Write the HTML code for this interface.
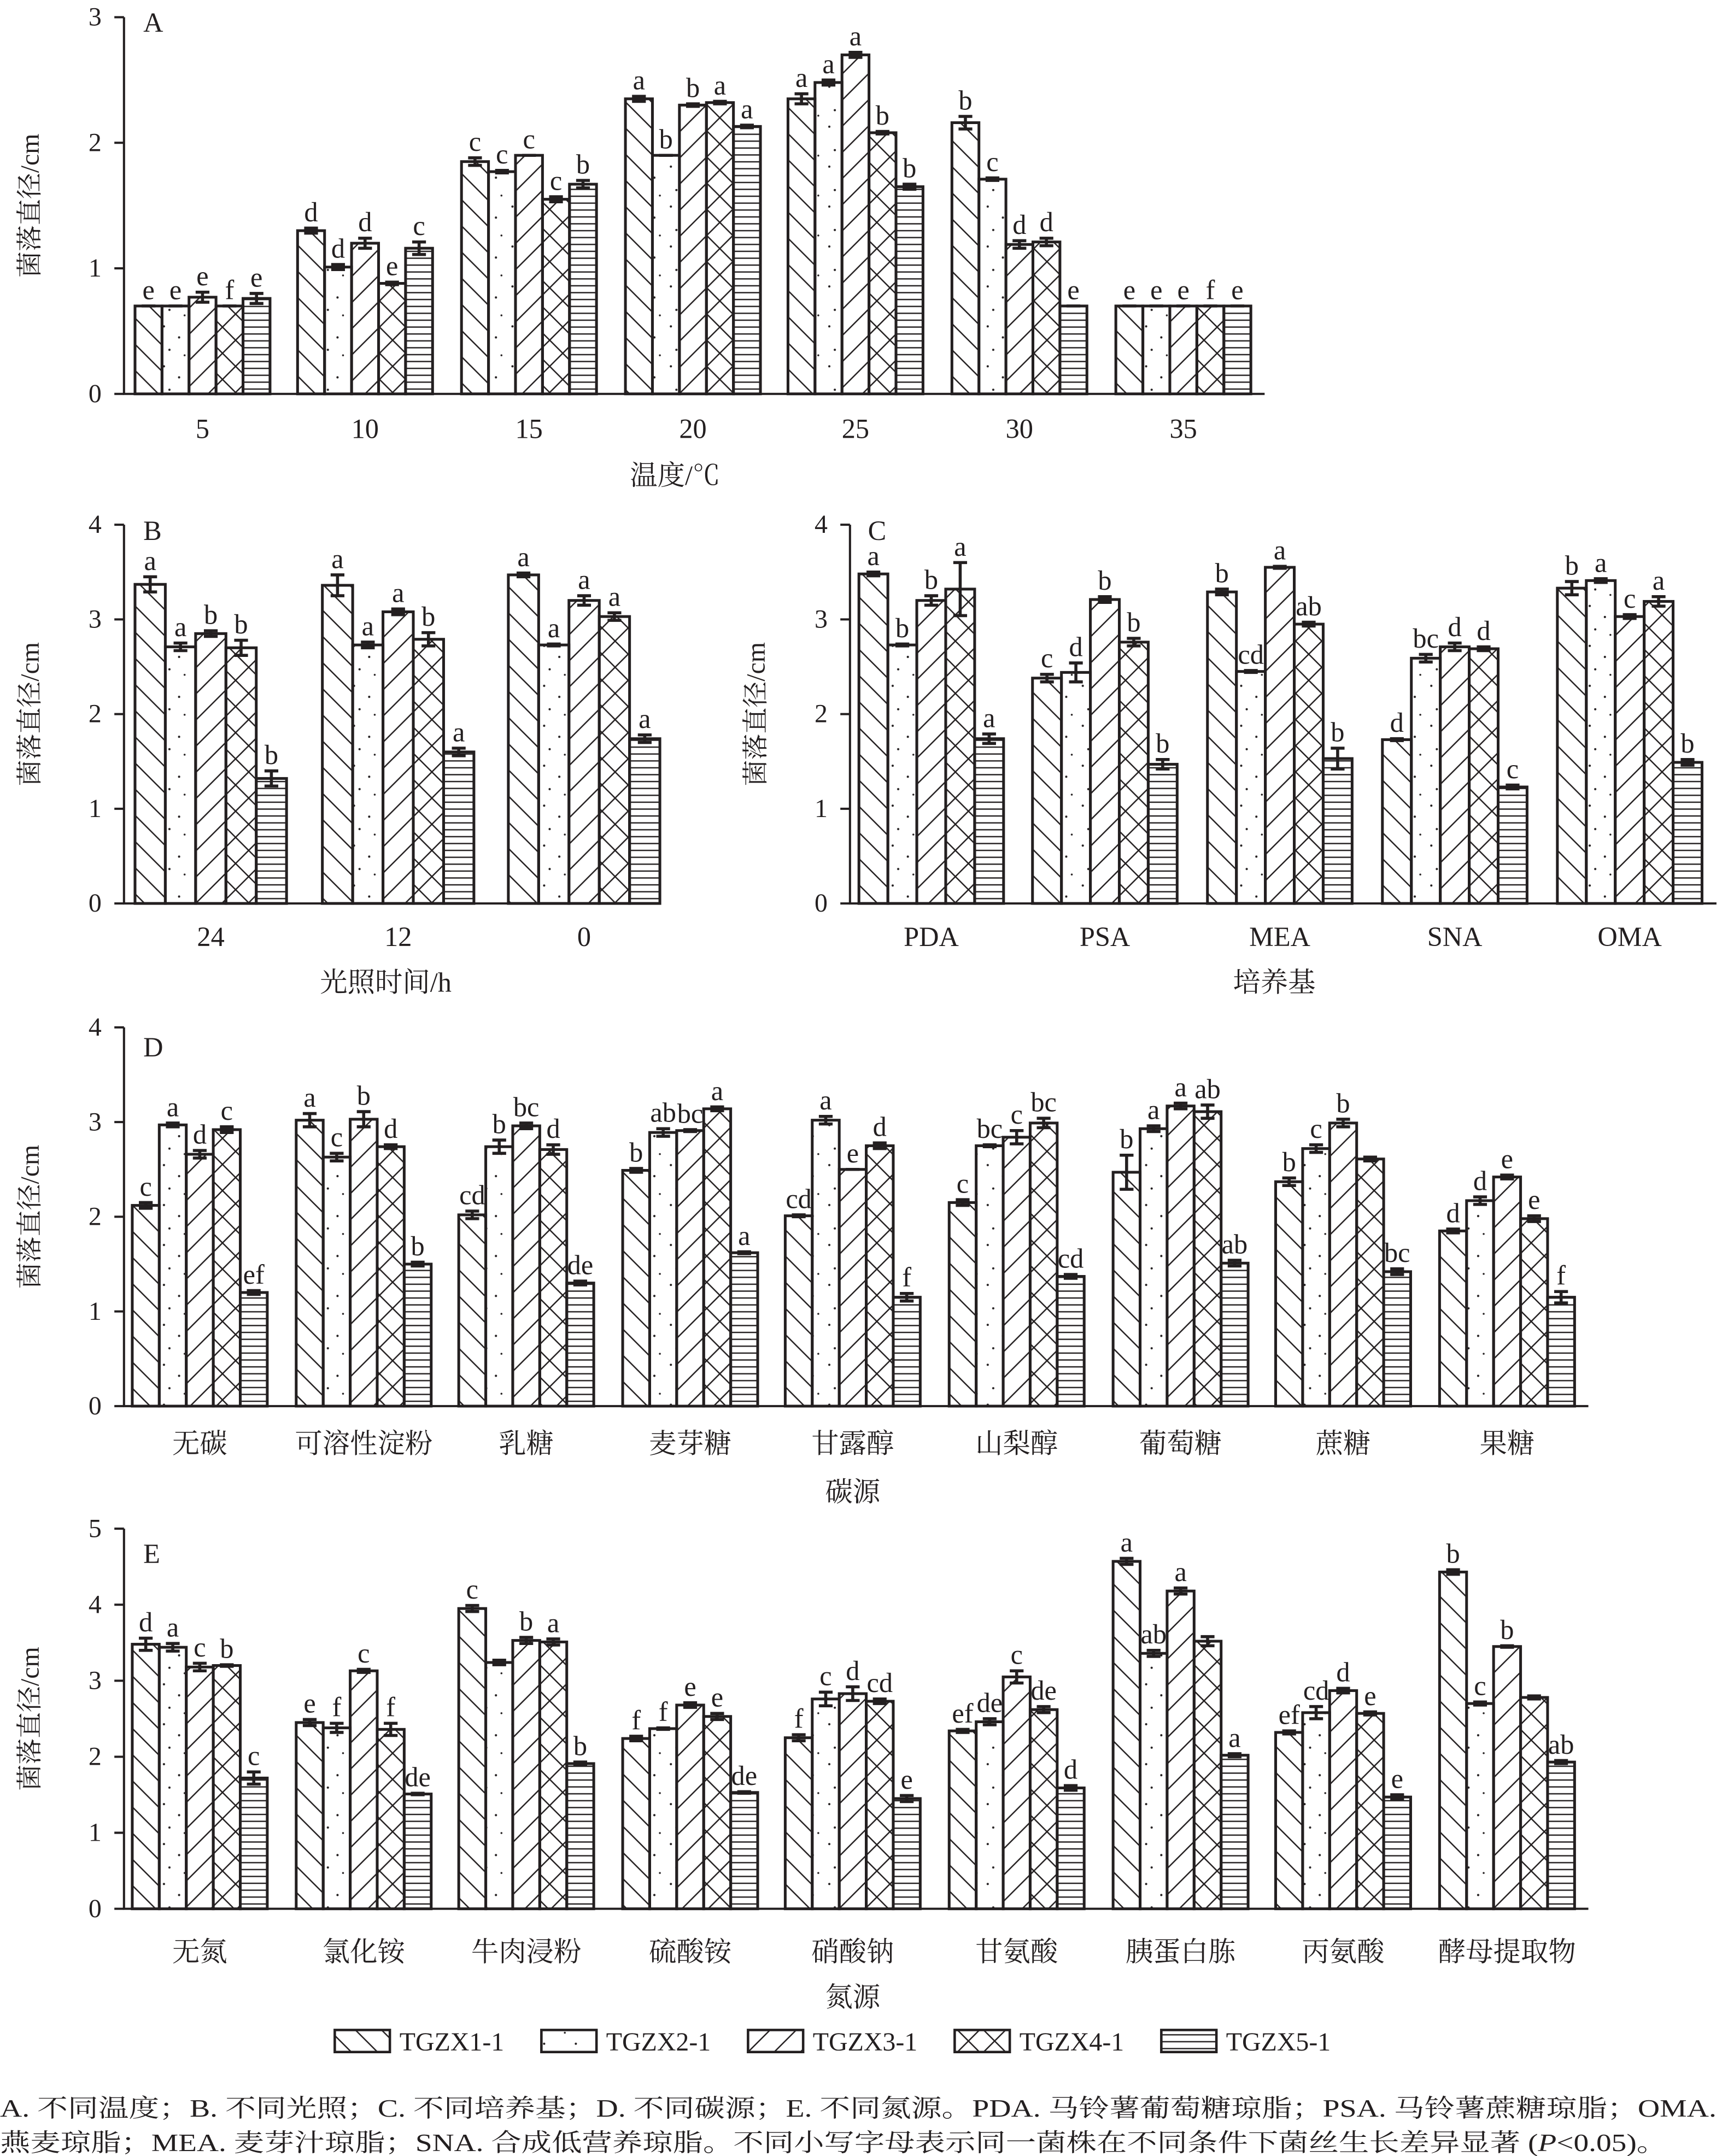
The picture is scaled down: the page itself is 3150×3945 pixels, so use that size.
<!DOCTYPE html>
<html><head><meta charset="utf-8"><style>
html,body{margin:0;padding:0;background:#fff;}
svg{display:block;}
text{font-family:"Liberation Serif","Noto Serif CJK SC","Noto Sans CJK SC",serif;fill:#231f20;}
</style></head><body>
<svg id="s" xmlns="http://www.w3.org/2000/svg" width="3150" height="3945" viewBox="0 0 1250 1565.5">
<defs>
<pattern id="p1" patternUnits="userSpaceOnUse" width="19" height="19"><path d="M-5,-5 L24,24 M-5,14 L5,24 M14,-5 L24,5" stroke="#231f20" stroke-width="1"/></pattern>
<pattern id="p3" patternUnits="userSpaceOnUse" width="19" height="19"><path d="M-5,24 L24,-5 M-5,5 L5,-5 M14,24 L24,14" stroke="#231f20" stroke-width="1"/></pattern>
<pattern id="p4" patternUnits="userSpaceOnUse" width="19" height="19"><path d="M-5,-5 L24,24 M-5,24 L24,-5 M-5,14 L5,24 M14,-5 L24,5 M-5,5 L5,-5 M14,24 L24,14" stroke="#231f20" stroke-width="1"/></pattern>
<pattern id="p5" patternUnits="userSpaceOnUse" width="10" height="5"><path d="M0,2.5 L10,2.5" stroke="#231f20" stroke-width="1"/></pattern>
<pattern id="p2" patternUnits="userSpaceOnUse" width="23" height="29"><circle cx="4" cy="5" r="0.8" fill="#231f20"/><circle cx="15" cy="13" r="0.8" fill="#231f20"/><circle cx="8" cy="22" r="0.8" fill="#231f20"/><circle cx="19" cy="26" r="0.7" fill="#231f20"/></pattern>
</defs>
<g id="g"></g>
</svg>
<script>
var out='';
var pats=['url(#p1)','url(#p2)','url(#p3)','url(#p4)','url(#p5)'];
function T(x,y,s,sz,anc,extra){out+='<text x="'+x+'" y="'+y+'" font-size="'+sz+'" text-anchor="'+(anc||'middle')+'" '+(extra||'')+'>'+s+'</text>';}
function panel(c){
  var ax=c.ax,y0=c.y0,ppu=(y0-c.yTop)/c.ymax;
  c.data.forEach(function(g,gi){
    var cx=c.cats[gi],bw=c.gw/5,sx=cx-c.gw/2;
    g.forEach(function(v,i){
      var x=sx+i*bw,h=v*ppu,yt=y0-h;
      out+='<rect x="'+x+'" y="'+yt+'" width="'+bw+'" height="'+h+'" fill="'+pats[i]+'" stroke="#231f20" stroke-width="2"/>';
      var e=(c.err&&c.err[gi]&&c.err[gi][i]!=null)?c.err[gi][i]:0.025;
      var ep=e*ppu, mx=x+bw/2;
      out+='<path d="M'+mx+','+(yt-ep)+' L'+mx+','+(yt+ep)+' M'+(mx-5)+','+(yt-ep)+' L'+(mx+5)+','+(yt-ep)+' M'+(mx-5)+','+(yt+ep)+' L'+(mx+5)+','+(yt+ep)+'" stroke="#231f20" stroke-width="2.2" fill="none"/>';
      var l=c.lab[gi][i]; if(l) T(mx,yt-ep-5,l,20);
    });
    T(cx,c.catY,c.names[gi],20);
  });
  out+='<path d="M'+ax+','+c.yTop+' L'+ax+','+y0+' L'+c.xEnd+','+y0+'" stroke="#231f20" stroke-width="1.6" fill="none"/>';
  for(var k=0;k<=c.ymax;k++){var yy=y0-k*ppu;out+='<path d="M'+(ax-7)+','+yy+' L'+ax+','+yy+'" stroke="#231f20" stroke-width="1.6"/>';T(ax-21,yy+6,k,19);}
  T(c.lx,c.ly,c.letter,20,'start');
  T(c.xlx,c.xly,c.xlab,20);
  var my=(c.yTop+y0)/2; T(0,0,'菌落直径/cm',19,'middle','transform="translate('+(ax-62)+','+my+') rotate(-90)"');
}
var D=function(s){return s.split(' ').map(function(x){return x==='-'?'':x;});};
panel({ax:90,yTop:12.5,y0:286,ymax:3,xEnd:918,cats:[147,265,384,503,621,740,859],gw:98,catY:318,
names:['5','10','15','20','25','30','35'],letter:'A',lx:104,ly:23,xlab:'温度/℃',xlx:490,xly:352,
data:[[0.7,0.7,0.77,0.7,0.76],[1.3,1.01,1.2,0.88,1.16],[1.85,1.77,1.9,1.55,1.67],[2.35,1.9,2.3,2.32,2.13],[2.35,2.48,2.7,2.08,1.65],[2.16,1.71,1.19,1.21,0.7],[0.7,0.7,0.7,0.7,0.7]],
err:[[0,0,0.04,0,0.04],[0.02,0.02,0.04,0.01,0.05],[0.03,0.01,0,0.02,0.03],[0.02,0,0.01,0.01,0.01],[0.04,0.02,0.02,0.01,0.02],[0.05,0.01,0.03,0.03,0],[0,0,0,0,0]],
lab:[D('e e e f e'),D('d d d e c'),D('c c c c b'),D('a b b a a'),D('a a a b b'),D('b c d d e'),D('e e e f e')]});
panel({ax:90,yTop:381,y0:656,ymax:4,xEnd:468,cats:[153,289,424],gw:110,catY:687,
names:['24','12','0'],letter:'B',lx:104,ly:392,xlab:'光照时间/h',xlx:280,xly:720,
data:[[3.37,2.71,2.85,2.7,1.32],[3.36,2.73,3.08,2.79,1.6],[3.47,2.73,3.2,3.03,1.74]],
err:[[0.08,0.04,0.03,0.08,0.08],[0.11,0.03,0.03,0.07,0.04],[0.02,0.01,0.05,0.04,0.04]],
lab:[D('a a b b b'),D('a a a b a'),D('a a a a a')]});
panel({ax:617,yTop:381,y0:656,ymax:4,xEnd:1246,cats:[676,802,929,1056,1183],gw:105,catY:687,
names:['PDA','PSA','MEA','SNA','OMA'],letter:'C',lx:630,ly:392,xlab:'培养基',xlx:925,xly:720,
data:[[3.48,2.73,3.2,3.32,1.74],[2.38,2.44,3.21,2.76,1.47],[3.29,2.45,3.55,2.95,1.53],[1.73,2.59,2.71,2.69,1.23],[3.33,3.41,3.03,3.19,1.49]],
err:[[0.02,0.01,0.05,0.28,0.05],[0.04,0.1,0.03,0.04,0.05],[0.03,0.01,0.01,0.02,0.11],[0.01,0.04,0.04,0.02,0.02],[0.07,0.02,0.02,0.05,0.03]],
lab:[D('a b b a a'),D('c d b b b'),D('b cd a ab b'),D('d bc d d c'),D('b a c a b')]});
panel({ax:90,yTop:746,y0:1021,ymax:4,xEnd:1153,cats:[145,264,382,501,619,738,857,975,1094],gw:98,catY:1055,
names:['无碳','可溶性淀粉','乳糖','麦芽糖','甘露醇','山梨醇','葡萄糖','蔗糖','果糖'],letter:'D',lx:104,ly:767,xlab:'碳源',xlx:619,xly:1090,
data:[[2.12,2.97,2.66,2.92,1.2],[3.02,2.63,3.03,2.74,1.5],[2.02,2.74,2.96,2.71,1.3],[2.49,2.89,2.91,3.14,1.62],[2.01,3.02,2.5,2.75,1.15],[2.15,2.75,2.84,2.99,1.37],[2.47,2.93,3.17,3.11,1.51],[2.37,2.72,2.99,2.61,1.42],[1.85,2.17,2.42,1.98,1.15]],
err:[[0.03,0.02,0.04,0.03,0.02],[0.07,0.04,0.08,0.02,0.02],[0.04,0.07,0.03,0.05,0.02],[0.02,0.04,0.01,0.02,0.01],[0.01,0.04,0,0.03,0.04],[0.03,0.01,0.07,0.05,0.02],[0.18,0.03,0.03,0.07,0.03],[0.04,0.04,0.04,0.02,0.03],[0.02,0.04,0.02,0.03,0.06]],
lab:[D('c a d c ef'),D('a c b d b'),D('cd b bc d de'),D('b ab bc a a'),D('cd a e d f'),D('c bc c bc cd'),D('b a a ab ab'),D('b c b - bc'),D('d d e e f')]});
panel({ax:90,yTop:1110,y0:1386,ymax:5,xEnd:1153,cats:[145,264,382,501,619,738,857,975,1094],gw:98,catY:1424,
names:['无氮','氯化铵','牛肉浸粉','硫酸铵','硝酸钠','甘氨酸','胰蛋白胨','丙氨酸','酵母提取物'],letter:'E',lx:104,ly:1135,xlab:'氮源',xlx:619,xly:1457,
data:[[3.48,3.44,3.18,3.2,1.72],[2.45,2.38,3.13,2.36,1.51],[3.95,3.24,3.53,3.51,1.91],[2.24,2.37,2.68,2.53,1.53],[2.25,2.76,2.83,2.73,1.45],[2.34,2.46,3.05,2.62,1.59],[4.57,3.36,4.18,3.52,2.02],[2.32,2.58,2.87,2.57,1.47],[4.43,2.7,3.45,2.78,1.93]],
err:[[0.08,0.05,0.05,0.01,0.08],[0.04,0.06,0.02,0.08,0.01],[0.04,0.03,0.04,0.04,0.02],[0.03,0.01,0.03,0.04,0.01],[0.04,0.09,0.09,0.03,0.04],[0.02,0.04,0.08,0.04,0.03],[0.04,0.04,0.04,0.06,0.02],[0.02,0.08,0.03,0.02,0.03],[0.03,0.02,0.01,0.02,0.02]],
lab:[D('d a c b c'),D('e f c f de'),D('c - b a b'),D('f f e e de'),D('f c d cd e'),D('ef de c de d'),D('a ab a - a'),D('ef cd d e e'),D('b c b - ab')]});
var lx=[243,393,543,693,843],nm=['TGZX1-1','TGZX2-1','TGZX3-1','TGZX4-1','TGZX5-1'];
for(var i=0;i<5;i++){out+='<rect x="'+lx[i]+'" y="1474" width="40" height="16" fill="'+pats[i]+'" stroke="#231f20" stroke-width="1.8"/>';T(lx[i]+47,1489,nm[i],19,'start');}
T(0,1537,'A. 不同温度；B. 不同光照；C. 不同培养基；D. 不同碳源；E. 不同氮源。PDA. 马铃薯葡萄糖琼脂；PSA. 马铃薯蔗糖琼脂；OMA.',18,'start','textLength="1246" lengthAdjust="spacingAndGlyphs"');
T(0,1562,'燕麦琼脂；MEA. 麦芽汁琼脂；SNA. 合成低营养琼脂。不同小写字母表示同一菌株在不同条件下菌丝生长差异显著 (<tspan font-style="italic">P</tspan>&lt;0.05)。',18,'start','textLength="1210" lengthAdjust="spacingAndGlyphs"');
document.getElementById('g').innerHTML=out;
</script>
</body></html>
